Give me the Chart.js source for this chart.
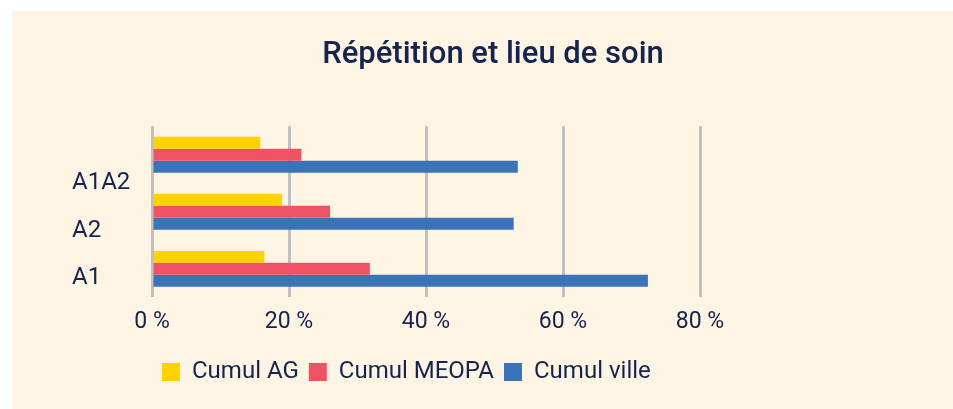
<!DOCTYPE html>
<html>
<head>
<meta charset="utf-8">
<script src="https://cdn.jsdelivr.net/npm/chart.js@4"></script>
<style>
    html, body { margin: 0; padding: 0; background: #ffffff; }
    #wrap {
        position: absolute;
        left: 12px;
        top: 11px;
        width: 941px;
        height: 398px;
        background: #fef4e3;
    }
</style>
</head>
<body>
<div id="wrap"><canvas id="chart"></canvas></div>
<script>
// Data (percent)
const categories = ['A1A2', 'A2', 'A1'];
const cumulAG = [15.8, 19.0, 16.4];
const cumulMEOPA = [21.8, 26.0, 31.8];
const cumulVille = [53.4, 52.8, 72.4];
const xTicks = [0, 20, 40, 60, 80];

// In the original the category labels sit a bit below their bar groups:
// they are put on a finer label axis (12 slots per category) at these slots
const labelSlots = [12, 22, 32];
const slotLabels = Array.from({ length: 37 }, (_, k) => {
    const i = labelSlots.indexOf(k);
    return i >= 0 ? categories[i] : '';
});

const navy = '#14244f';
const fontFamily = 'Roboto, "Noto Sans", sans-serif';

function initializeChart() {
    const ctx = document.getElementById('chart').getContext('2d');
    return new Chart(ctx, {
        type: 'bar',
        data: {
            labels: categories,
            datasets: [
                { label: 'Cumul AG', data: cumulAG, backgroundColor: '#ffd200' },
                { label: 'Cumul MEOPA', data: cumulMEOPA, backgroundColor: '#ef5263' },
                { label: 'Cumul ville', data: cumulVille, backgroundColor: '#3b73b9' }
            ]
        },
        options: {
            indexAxis: 'y',
            responsive: true,
            maintainAspectRatio: false,
            animation: false,
            datasets: {
                bar: { categoryPercentage: 0.63, barPercentage: 1.0, borderWidth: 0 }
            },
            layout: { padding: { left: 60, right: 39, top: 0, bottom: 15 } },
            scales: {
                x: {
                    min: 0,
                    max: 80,
                    afterBuildTicks: scale => { scale.ticks = xTicks.map(v => ({ value: v })); },
                    afterFit: scale => { scale.height += 3; },
                    grid: { color: '#c0bfc2', lineWidth: 3, drawTicks: false },
                    border: { display: false },
                    ticks: {
                        padding: 11,
                        color: navy,
                        font: { family: fontFamily, size: 23 },
                        callback: v => v + ' %'
                    }
                },
                y: {
                    display: false
                },
                yLabels: {
                    type: 'category',
                    position: 'left',
                    labels: slotLabels,
                    offset: false,
                    afterFit: scale => { scale.width = 80; },
                    grid: { display: false },
                    border: { display: false },
                    ticks: {
                        crossAlign: 'far',
                        padding: 0,
                        autoSkip: false,
                        color: navy,
                        font: { family: fontFamily, size: 24 }
                    }
                },
                spacer: {
                    type: 'linear',
                    position: 'right',
                    afterFit: scale => { scale.width = 214; },
                    grid: { display: false },
                    border: { display: false },
                    ticks: { display: false }
                }
            },
            plugins: {
                title: {
                    display: true,
                    text: 'Répétition et lieu de soin',
                    color: navy,
                    font: { family: fontFamily, size: 31, weight: '500' },
                    padding: { top: 26, bottom: 52 }
                },
                legend: {
                    position: 'bottom',
                    align: 'start',
                    fullSize: false,
                    labels: {
                        boxWidth: 18,
                        boxHeight: 18,
                        padding: 10,
                        color: navy,
                        font: { family: fontFamily, size: 24 }
                    }
                },
                tooltip: { enabled: false }
            }
        }
    });
}

document.addEventListener('DOMContentLoaded', () => {
    initializeChart();
});
</script>
</body>
</html>
